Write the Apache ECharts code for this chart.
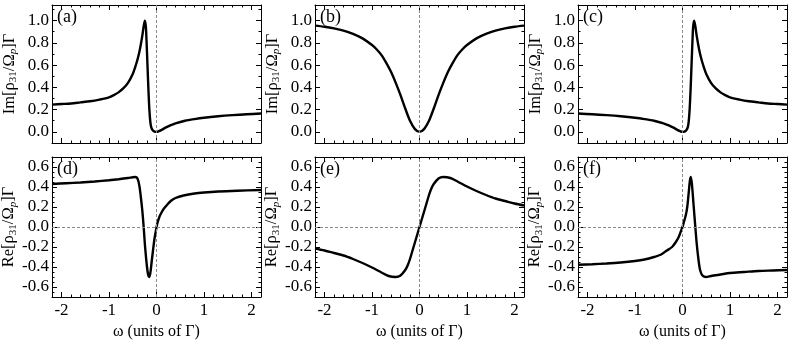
<!DOCTYPE html>
<html>
<head>
<meta charset="utf-8">
<script src="https://cdn.jsdelivr.net/npm/echarts@6/dist/echarts.min.js"></script>
<style>
html, body { margin: 0; padding: 0; background: #fff; }
#chart { width: 789px; height: 344px; }
</style>
</head>
<body>
<div id="chart"></div>
<script>
// values, omega in units of Gamma
var aX = [-2.2,-2.0,-1.8,-1.6,-1.4,-1.2,-1.0,-0.9,-0.8,-0.7,-0.6,-0.5,-0.45,-0.4,-0.35,-0.3,-0.27,-0.245,-0.225,-0.21,-0.19,-0.17,-0.15,-0.13,-0.11,-0.08,-0.04,0,0.05,0.1,0.2,0.3,0.4,0.6,0.8,1.0,1.3,1.6,1.9,2.2];
var aY = [0.245,0.25,0.255,0.265,0.275,0.29,0.31,0.33,0.355,0.39,0.44,0.52,0.58,0.65,0.74,0.86,0.95,1.0,0.95,0.82,0.6,0.38,0.2,0.09,0.04,0.015,0.003,0,0.006,0.016,0.04,0.06,0.077,0.10,0.115,0.127,0.14,0.15,0.158,0.165];

var bX = [-2.2,-2.0,-1.8,-1.6,-1.4,-1.2,-1.0,-0.9,-0.8,-0.7,-0.6,-0.5,-0.4,-0.3,-0.2,-0.1,0,0.1,0.2,0.3,0.4,0.5,0.6,0.7,0.8,0.9,1.0,1.2,1.4,1.6,1.8,2.0,2.2];
var bY = [0.955,0.945,0.93,0.91,0.88,0.84,0.78,0.74,0.69,0.62,0.54,0.44,0.33,0.21,0.10,0.027,0,0.027,0.10,0.21,0.33,0.44,0.54,0.62,0.69,0.74,0.78,0.84,0.88,0.91,0.93,0.945,0.955];

var cX = [-2.2,-1.9,-1.6,-1.3,-1.0,-0.8,-0.6,-0.4,-0.3,-0.2,-0.1,-0.05,0,0.04,0.08,0.11,0.13,0.15,0.17,0.19,0.21,0.225,0.245,0.27,0.3,0.35,0.4,0.45,0.5,0.6,0.7,0.8,0.9,1.0,1.2,1.4,1.6,1.8,2.0,2.2];
var cY = [0.165,0.158,0.15,0.14,0.127,0.115,0.10,0.077,0.06,0.04,0.016,0.006,0,0.003,0.015,0.04,0.09,0.2,0.38,0.6,0.82,0.95,1.0,0.95,0.86,0.74,0.65,0.58,0.52,0.44,0.39,0.355,0.33,0.31,0.29,0.275,0.265,0.255,0.25,0.245];

var dX = [-2.2,-1.9,-1.6,-1.3,-1.0,-0.8,-0.6,-0.5,-0.45,-0.4,-0.36,-0.33,-0.3,-0.27,-0.24,-0.2,-0.175,-0.155,-0.13,-0.1,-0.07,-0.04,-0.01,0.02,0.06,0.1,0.15,0.22,0.3,0.4,0.57,0.8,1.0,1.3,1.7,2.2];
var dY = [0.43,0.438,0.445,0.455,0.468,0.478,0.49,0.498,0.5,0.485,0.41,0.3,0.17,0.0,-0.2,-0.4,-0.48,-0.5,-0.46,-0.34,-0.22,-0.11,-0.03,0.04,0.10,0.14,0.18,0.22,0.26,0.29,0.315,0.335,0.345,0.355,0.363,0.37];

var eX = [-2.2,-2.0,-1.8,-1.6,-1.4,-1.2,-1.0,-0.8,-0.65,-0.5,-0.4,-0.3,-0.25,-0.2,-0.15,-0.1,-0.05,0,0.05,0.1,0.15,0.2,0.25,0.3,0.4,0.5,0.65,0.8,1.0,1.2,1.4,1.6,1.8,2.0,2.2];
var eY = [-0.215,-0.235,-0.26,-0.285,-0.32,-0.36,-0.405,-0.455,-0.49,-0.5,-0.485,-0.43,-0.385,-0.32,-0.24,-0.16,-0.08,0,0.08,0.16,0.24,0.32,0.385,0.43,0.485,0.5,0.49,0.455,0.405,0.36,0.32,0.285,0.26,0.235,0.215];

var fX = [-2.2,-1.9,-1.6,-1.3,-1.0,-0.8,-0.6,-0.45,-0.33,-0.22,-0.14,-0.08,-0.04,0,0.03,0.07,0.1,0.13,0.155,0.175,0.2,0.23,0.27,0.3,0.34,0.37,0.42,0.5,0.6,0.8,1.0,1.3,1.6,1.9,2.2];
var fY = [-0.377,-0.372,-0.365,-0.355,-0.34,-0.325,-0.3,-0.275,-0.235,-0.2,-0.15,-0.10,-0.05,0,0.05,0.12,0.2,0.34,0.46,0.5,0.42,0.24,0.0,-0.17,-0.34,-0.43,-0.485,-0.5,-0.49,-0.475,-0.46,-0.45,-0.44,-0.435,-0.43];

var tags = ['(a)', '(b)', '(c)', '(d)', '(e)', '(f)'];
var xs = [aX, bX, cX, dX, eX, fX];
var ys = [aY, bY, cY, dY, eY, fY];
var refZero = 0;

var FONT = '"Liberation Serif", "Times New Roman", serif';
var chart = echarts.init(document.getElementById('chart'));

var lefts = [52, 315, 578];
var tops = [5, 157];
var heights = [138, 140];
var rowY = [
  { min: -0.1, max: 1.14, split: 6, minor: 0.1, lo: -0.05, hi: 1.05, pre: 'Im' },
  { min: -0.7, max: 0.7, split: 7, minor: 0.05, lo: -0.65, hi: 0.65, pre: 'Re' }
];

var grids = [], xAxes = [], yAxes = [], series = [], graphics = [];
var black = { color: '#000', width: 1 };

for (var i = 0; i < 6; i++) {
  var row = i < 3 ? 0 : 1, col = i % 3, ry = rowY[row];
  grids.push({ left: lefts[col], top: tops[row], width: 209, height: heights[row], outerBoundsMode: 'none' });

  ['bottom', 'top'].forEach(function (pos) {
    var main = pos === 'bottom';
    xAxes.push({
      gridIndex: i, type: 'value', min: -2.2, max: 2.2, splitNumber: 4, position: pos,
      axisLine: { show: true, onZero: false, lineStyle: black },
      axisTick: { inside: true, length: 5, lineStyle: black },
      splitLine: { show: false },
      axisLabel: {
        show: main && row === 1, margin: 5, color: '#000', fontFamily: FONT, fontSize: 17,
        formatter: function (v) { return Math.abs(v) > 2.1 ? '' : String(v); }
      },
      name: main && row === 1 ? 'ω (units of Γ)' : '',
      nameLocation: 'middle', nameGap: 27,
      nameTextStyle: { color: '#000', fontFamily: FONT, fontSize: 16 }
    });
    xAxes.push({
      gridIndex: i, type: 'value', min: -2.2, max: 2.2, interval: 0.2, position: pos,
      axisLine: { show: false, onZero: false },
      axisTick: { inside: true, length: 2.5, lineStyle: black },
      splitLine: { show: false }, axisLabel: { show: false }
    });
  });

  ['left', 'right'].forEach(function (pos) {
    var main = pos === 'left';
    yAxes.push({
      gridIndex: i, type: 'value', min: ry.min, max: ry.max, splitNumber: ry.split, position: pos,
      axisLine: { show: true, onZero: false, lineStyle: black },
      axisTick: { inside: true, length: 5, lineStyle: black },
      splitLine: { show: false },
      axisLabel: {
        show: main, margin: 3, color: '#000', fontFamily: FONT, fontSize: 17,
        formatter: (function (r) {
          return function (v) { return (v < r.lo || v > r.hi) ? '' : v.toFixed(1); };
        })(ry)
      },
      name: main ? '{t|' + ry.pre + '[ρ}{s|31}{t|/Ω}{p|p}{t|]Γ}' : '',
      nameLocation: 'middle', nameRotate: 90, nameGap: 33,
      nameTextStyle: {
        rich: {
          t: { fontFamily: FONT, fontSize: 16.5, color: '#000', lineHeight: 19 },
          s: { fontFamily: FONT, fontSize: 11, color: '#000', lineHeight: 11, verticalAlign: 'bottom' },
          p: { fontFamily: FONT, fontSize: 11, fontStyle: 'italic', color: '#000', lineHeight: 11, verticalAlign: 'bottom' }
        }
      }
    });
    yAxes.push({
      gridIndex: i, type: 'value', min: ry.min, max: ry.max, interval: ry.minor, position: pos,
      axisLine: { show: false, onZero: false },
      axisTick: { inside: true, length: 2.5, lineStyle: black },
      splitLine: { show: false }, axisLabel: { show: false }
    });
  });

  var pts = xs[i].map(function (x, k) { return [x, ys[i][k]]; });
  var refs = [{ xAxis: refZero }];
  if (row === 1) refs.push({ yAxis: refZero });
  series.push({
    type: 'line', xAxisIndex: 4 * i, yAxisIndex: 4 * i, data: pts,
    showSymbol: false, smooth: 0.3,
    lineStyle: { color: '#000', width: 2.4 },
    markLine: {
      silent: true, symbol: 'none', label: { show: false }, animation: false,
      lineStyle: { color: '#888', type: [3, 2], width: 1 },
      data: refs
    }
  });

  graphics.push({
    type: 'text', left: lefts[col] + 5, top: tops[row] + 3,
    style: { text: tags[i], font: '18px ' + FONT, fill: '#000' }
  });
}

chart.setOption({
  animation: false,
  backgroundColor: '#fff',
  grid: grids,
  xAxis: xAxes,
  yAxis: yAxes,
  series: series,
  graphic: graphics
});
</script>
</body>
</html>
